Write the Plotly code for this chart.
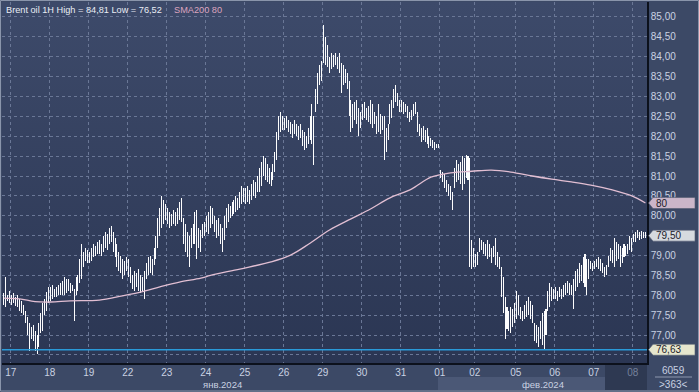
import base64
import plotly.graph_objects as go

# ---------------- data ----------------
day_labels = ["16", "17", "18", "19", "22", "23", "24", "25", "26",
              "29", "30", "31", "01", "02", "05", "06", "07", "08"]

high_16 = [78.05, 78.45, 78.0, 78.1]
low_16 = [77.75, 77.7, 77.85, 77.8]
high_17 = [78.0, 78.05, 77.95, 78.0, 77.9, 77.85, 77.75, 77.6, 77.45, 77.3, 77.2, 77.25, 77.1, 77.0, 77.3, 77.55, 77.8, 77.9, 78.08, 78.2]
low_17 = [77.75, 77.8, 77.72, 77.7, 77.6, 77.55, 77.5, 77.3, 77.0, 76.6, 76.9, 76.85, 76.6, 76.52, 76.7, 77.05, 77.1, 77.5, 77.6, 77.8]
high_18 = [78.2, 78.25, 78.15, 78.2, 78.25, 78.3, 78.35, 78.45, 78.4, 78.4, 78.3, 78.25, 78.15, 78.45, 78.5, 78.9, 79.3, 79.1, 79.2, 79.15]
low_18 = [77.85, 77.9, 77.95, 77.95, 78.0, 78.0, 78.0, 78.0, 78.05, 78.1, 78.05, 78.1, 77.35, 78.0, 78.1, 78.3, 78.4, 78.7, 78.85, 78.8]
high_19 = [79.1, 79.2, 79.3, 79.25, 79.35, 79.4, 79.3, 79.5, 79.6, 79.55, 79.7, 79.75, 79.6, 79.45, 79.3, 79.1, 79.0, 78.9, 78.85, 78.95]
low_19 = [78.8, 78.85, 78.95, 79.0, 79.05, 79.05, 79.0, 79.1, 79.2, 79.15, 79.3, 79.35, 79.1, 78.95, 78.7, 78.6, 78.55, 78.4, 78.5, 78.6]
high_22 = [78.9, 78.7, 78.5, 78.6, 78.55, 78.65, 78.5, 78.45, 78.6, 78.8, 78.95, 79.0, 78.9, 79.2, 79.5, 79.95, 80.2, 80.5, 80.4, 80.3]
low_22 = [78.45, 78.3, 78.15, 78.1, 78.2, 78.1, 78.05, 78.1, 77.9, 78.4, 78.5, 78.55, 78.5, 78.75, 78.9, 79.2, 79.5, 79.7, 79.8, 79.9]
high_23 = [80.2, 80.1, 80.05, 80.15, 80.1, 80.2, 80.35, 80.45, 79.95, 79.8, 79.6, 79.5, 79.7, 79.8, 80.1, 80.15, 79.7, 79.65, 79.8, 79.85]
low_23 = [79.8, 79.7, 79.75, 79.8, 79.75, 79.8, 79.9, 79.85, 79.3, 79.1, 78.95, 78.7, 79.2, 79.3, 79.3, 78.9, 79.2, 79.1, 79.45, 79.5]
high_24 = [80.0, 80.1, 80.25, 80.2, 80.0, 79.9, 79.95, 79.8, 79.7, 80.0, 80.2, 80.3, 80.25, 80.35, 80.4, 80.5, 80.45, 80.6, 80.75, 80.7]
low_24 = [79.6, 79.55, 79.7, 79.8, 79.6, 79.45, 79.5, 79.3, 79.1, 79.4, 79.7, 79.85, 79.95, 80.0, 80.05, 80.1, 80.15, 80.2, 80.3, 80.35]
high_25 = [80.7, 80.75, 80.65, 80.8, 80.9, 80.85, 81.0, 81.2, 81.35, 81.5, 81.45, 81.3, 81.2, 81.1, 81.3, 81.6, 82.1, 82.5, 82.6, 82.5]
low_25 = [80.3, 80.35, 80.3, 80.4, 80.5, 80.45, 80.6, 80.6, 80.75, 81.0, 80.9, 80.85, 80.8, 80.75, 80.9, 81.1, 81.4, 81.9, 82.1, 82.15]
high_26 = [82.45, 82.5, 82.4, 82.35, 82.3, 82.4, 82.3, 82.25, 82.3, 82.15, 82.1, 82.0, 82.2, 82.5, 82.8, 82.5, 83.2, 83.6, 83.8, 83.9]
low_26 = [82.15, 82.2, 82.1, 82.05, 81.95, 82.05, 82.0, 81.9, 81.95, 81.75, 81.65, 81.7, 81.8, 81.9, 81.8, 81.28, 82.6, 82.8, 83.3, 83.4]
high_29 = [84.81, 84.5, 84.3, 84.0, 84.1, 84.05, 84.1, 84.0, 84.1, 83.85, 83.8, 83.7, 83.6, 83.4, 82.9, 82.8, 82.85, 82.9, 82.7, 82.6]
low_29 = [83.85, 83.8, 83.75, 83.6, 83.7, 83.75, 83.8, 83.7, 83.6, 83.1, 83.3, 83.35, 83.2, 82.5, 82.1, 82.2, 82.4, 82.3, 82.0, 82.2]
high_30 = [82.8, 82.85, 82.7, 82.75, 82.9, 82.8, 82.6, 82.5, 82.8, 82.55, 82.5, 82.5, 82.2, 82.3, 82.8, 82.9, 83.2, 83.3, 83.1, 82.9]
low_30 = [82.4, 82.45, 82.4, 82.35, 82.3, 82.2, 82.3, 82.05, 82.1, 82.05, 82.15, 81.4, 81.6, 81.9, 82.3, 82.45, 82.7, 82.85, 82.75, 82.6]
high_31 = [82.9, 82.85, 82.8, 82.75, 82.6, 82.65, 82.8, 82.85, 82.6, 82.3, 82.2, 82.25, 82.15, 82.2, 82.0, 81.95, 81.9, 81.85, 81.8, 81.8]
low_31 = [82.6, 82.55, 82.6, 82.45, 82.35, 82.4, 82.5, 82.55, 82.1, 82.0, 81.85, 81.9, 81.85, 81.8, 81.7, 81.75, 81.7, 81.65, 81.7, 81.7]
high_01 = [81.15, 81.1, 81.05, 80.9, 80.8, 80.75, 80.6, 81.2, 81.4, 81.3, 81.35, 81.5, 81.45, 81.53, 81.5, 81.45, 79.4, 79.2]
low_01 = [80.95, 80.85, 80.7, 80.6, 80.5, 80.4, 80.15, 80.7, 80.85, 80.9, 80.8, 80.65, 80.8, 80.95, 80.9, 78.7, 78.65, 78.7]
high_02 = [79.05, 79.1, 79.45, 79.4, 79.35, 79.3, 79.4, 79.3, 79.2, 79.25, 79.45, 79.1, 78.95, 78.7, 78.45, 77.95, 77.7, 77.6, 77.7, 77.65, 77.8]
low_02 = [78.7, 78.75, 79.1, 79.15, 79.05, 79.0, 78.9, 78.95, 78.8, 78.95, 78.75, 78.7, 78.65, 77.95, 77.55, 76.9, 77.15, 77.1, 77.05, 77.2, 77.3]
high_05 = [78.1, 78.0, 77.7, 77.6, 77.75, 77.85, 77.95, 77.85, 77.75, 77.3, 77.25, 77.2, 77.35, 77.55, 77.6, 77.65, 78.1, 78.3, 78.2, 78.15]
low_05 = [77.4, 77.5, 77.4, 77.35, 77.4, 77.45, 77.5, 77.4, 77.3, 76.85, 76.8, 76.7, 76.9, 76.75, 76.63, 77.0, 77.6, 77.7, 77.85, 77.9]
high_06 = [78.2, 78.1, 78.2, 78.15, 78.25, 78.3, 78.35, 78.3, 78.25, 78.4, 78.6, 78.65, 78.8, 78.75, 78.95, 79.05, 78.9, 78.9, 78.85, 78.8]
low_06 = [77.9, 77.85, 77.95, 77.9, 77.95, 78.0, 78.05, 78.0, 78.0, 77.65, 78.1, 78.2, 78.3, 78.35, 78.3, 78.2, 78.0, 78.4, 78.65, 78.6]
high_07 = [78.85, 78.9, 78.95, 78.9, 78.8, 78.7, 78.75, 79.0, 79.2, 79.15, 79.45, 79.35, 79.3, 79.25, 79.2, 79.3, 79.25, 79.3, 79.5, 79.45]
low_07 = [78.65, 78.7, 78.65, 78.6, 78.55, 78.45, 78.5, 78.7, 78.85, 78.8, 78.7, 78.85, 78.9, 78.7, 78.8, 78.95, 79.0, 79.05, 79.15, 79.1]
high_08 = [79.55, 79.6, 79.65, 79.6, 79.62, 79.6, 79.58]
low_08 = [79.35, 79.35, 79.45, 79.4, 79.42, 79.45, 79.45]

# SMA200 readings (bar number, value)
sma_bar = [0, 8, 16, 24, 34, 49, 60, 70, 80, 90, 101, 106, 121, 137, 147, 157, 167, 178,
           188, 198, 209, 219, 229, 240, 250, 260, 271, 281, 291, 301, 312, 322, 329]
sma_val = [77.93, 77.91, 77.84, 77.83, 77.86, 77.88, 77.98, 78.08, 78.21, 78.33, 78.43, 78.5,
           78.66, 78.84, 79.01, 79.31, 79.64, 79.92, 80.17, 80.45, 80.67, 80.97, 81.08, 81.12,
           81.15, 81.1, 81.0, 80.92, 80.85, 80.77, 80.65, 80.5, 80.32]

sma_label = "80"
last_price = 79.50
level_line = 76.63
y_ticks = [76.5, 77.0, 77.5, 78.0, 78.5, 79.0, 79.5, 80.0, 80.5, 81.0, 81.5, 82.0,
           82.5, 83.0, 83.5, 84.0, 84.5, 85.0]
hidden_ticks = [76.5, 79.5]   # covered by the price tags in the original
month_labels = ["янв.2024", "фев.2024"]
title_text = "Brent oil 1H High = 84,81 Low = 76,52"
sma_title = "SMA200 80"
corner_top = "6059"
corner_bottom = ">363<"

highs = [high_16, high_17, high_18, high_19, high_22, high_23, high_24, high_25, high_26,
         high_29, high_30, high_31, high_01, high_02, high_05, high_06, high_07, high_08]
lows = [low_16, low_17, low_18, low_19, low_22, low_23, low_24, low_25, low_26,
        low_29, low_30, low_31, low_01, low_02, low_05, low_06, low_07, low_08]

# ---------------- build series ----------------
bar_x, bar_lo, bar_h = [], [], []
tick_pos, tick_txt = [], []
i = 0
for lab, hs, ls in zip(day_labels, highs, lows):
    if lab != "16":
        tick_pos.append(i - 0.5)
        tick_txt.append(lab if lab != "08" else '<span style="color:#75819b">08</span>')
    for h, l in zip(hs, ls):
        bar_x.append(i)
        bar_lo.append(l)
        bar_h.append(h - l)
        i += 1

fmt = lambda v: f"{v:.2f}".replace(".", ",")
y_text = ["" if v in hidden_ticks else fmt(v) for v in y_ticks]

# ---------------- figure ----------------
W, H = 699, 392
ML, MR, MT, MB = 2, 52, 2, 29
PW, PH = W - ML - MR, H - MT - MB
X_RANGE = [-0.96, 329.8]
Y_RANGE = [76.296, 85.377]
PX_PER_BAR = PW / (X_RANGE[1] - X_RANGE[0])


def px(xp):  # paper x from pixel
    return (xp - ML) / PW


def py(yp):  # paper y from pixel
    return (H - MB - yp) / PH


FONT = "Liberation Sans, Arial, sans-serif"

fig = go.Figure()
fig.add_trace(go.Bar(x=bar_x, y=bar_h, base=bar_lo, width=1.02 / PX_PER_BAR,
                     marker=dict(color="rgba(255,255,255,0.99)", line=dict(width=0)),
                     hoverinfo="skip", showlegend=False))
fig.add_trace(go.Scatter(x=sma_bar, y=sma_val, mode="lines",
                         line=dict(color="#e2bfd3", width=1.3, shape="spline"),
                         hoverinfo="skip", showlegend=False))

svg = ('<svg xmlns="http://www.w3.org/2000/svg" width="10" height="100" viewBox="0 0 10 100" '
       'preserveAspectRatio="none"><defs><linearGradient id="g" x1="0" y1="0" x2="0" y2="1">'
       '<stop offset="0" stop-color="#3d4a6a"/><stop offset="1" stop-color="#2b3653"/>'
       '</linearGradient></defs><rect width="10" height="100" fill="url(#g)"/></svg>')
src = "data:image/svg+xml;base64," + base64.b64encode(svg.encode()).decode()

shapes = []
shapes.append(dict(type="line", xref="paper", yref="y", x0=0, x1=1, y0=level_line, y1=level_line,
                   line=dict(color="#2a9ad8", width=1.6), layer="above"))
shapes.append(dict(type="rect", xref="paper", yref="paper", x0=px(438), x1=px(605),
                   y0=py(390), y1=py(377), fillcolor="#4b5876", line=dict(width=0), layer="below"))
shapes.append(dict(type="rect", xref="paper", yref="paper", x0=px(605), x1=1,
                   y0=py(390), y1=0, fillcolor="#2e3952", line=dict(width=0), layer="below"))
shapes.append(dict(type="line", xref="paper", yref="paper", x0=px(655), x1=px(692),
                   y0=py(377), y1=py(377), line=dict(color="#8d98ae", width=1)))
# outer light frame
shapes.append(dict(type="rect", xref="paper", yref="paper", x0=px(0.5), x1=px(698.5),
                   y0=py(391), y1=py(0.5), fillcolor="rgba(0,0,0,0)",
                   line=dict(color="#8a95ab", width=1), layer="above"))


def tag(yv, color):
    h = 5.5 * (Y_RANGE[1] - Y_RANGE[0]) / PH
    x0, x1, x2 = px(648.5), px(653), px(695)
    return dict(type="path", xref="paper", yref="y",
                path=f"M {x0},{yv} L {x1},{yv + h} L {x2},{yv + h} L {x2},{yv - h} L {x1},{yv - h} Z",
                fillcolor=color, line=dict(color="#505a70", width=0.6), layer="above")


shapes.append(tag(sma_val[-1], "#cbb6c9"))
shapes.append(tag(last_price, "#d6dadf"))
shapes.append(tag(level_line, "#e6e6cd"))


def note(text, x, y, color, size=10, anchor="center", yref="paper"):
    return dict(text=text, xref="paper", yref=yref, x=x, y=y, xanchor=anchor,
                yanchor="middle", showarrow=False, font=dict(family=FONT, size=size, color=color))


annotations = [
    note(title_text, px(4), py(10), "#e9edf5", size=9.2, anchor="left"),
    note(sma_title, px(172), py(10), "#dda4bf", size=9.2, anchor="left"),
    note(month_labels[0], px(222), py(384), "#c9d1e2", size=9.5),
    note(month_labels[1], px(543), py(384), "#c9d1e2", size=9.5),
    note(corner_top, px(673), py(370), "#c9d1e2"),
    note(corner_bottom, px(673), py(384), "#c9d1e2"),
    note(sma_label, px(654), sma_val[-1], "#1b1b28", anchor="left", yref="y"),
    note(fmt(last_price), px(654), last_price, "#1b1b28", anchor="left", yref="y"),
    note(fmt(level_line), px(654), level_line, "#1b1b28", anchor="left", yref="y"),
]

fig.update_layout(
    width=W, height=H,
    margin=dict(l=ML, r=MR, t=MT, b=MB, pad=0),
    paper_bgcolor="#3c4966",
    plot_bgcolor="#34405e",
    font=dict(family=FONT, size=10, color="#c9d1e2"),
    showlegend=False,
    bargap=0,
    shapes=shapes,
    annotations=annotations,
    images=[dict(source=src, xref="paper", yref="paper", x=0, y=1, sizex=1, sizey=1,
                 xanchor="left", yanchor="top", sizing="stretch", layer="below")],
    xaxis=dict(range=X_RANGE, tickmode="array", tickvals=tick_pos, ticktext=tick_txt,
               showgrid=True, gridcolor="#6a7796", griddash="3px,3px", gridwidth=1,
               zeroline=False, showline=True, linecolor="#0c111c", linewidth=1.5,
               ticks="", ticklabelstandoff=-1, tickfont=dict(size=10, color="#c9d1e2"),
               fixedrange=True),
    yaxis=dict(range=Y_RANGE, side="right", tickmode="array", tickvals=y_ticks,
               ticktext=y_text, showgrid=True, gridcolor="#6a7796", griddash="3px,3px",
               gridwidth=1, zeroline=False, showline=True, linecolor="#0c111c", linewidth=1.5,
               ticks="", ticklabelstandoff=0, tickfont=dict(size=10, color="#c9d1e2"),
               fixedrange=True),
)

fig.write_html("out.html", config={"displayModeBar": False},
               post_script="document.body.style.margin='0';document.body.style.padding='0';"
                           "document.documentElement.style.overflow='hidden';")
